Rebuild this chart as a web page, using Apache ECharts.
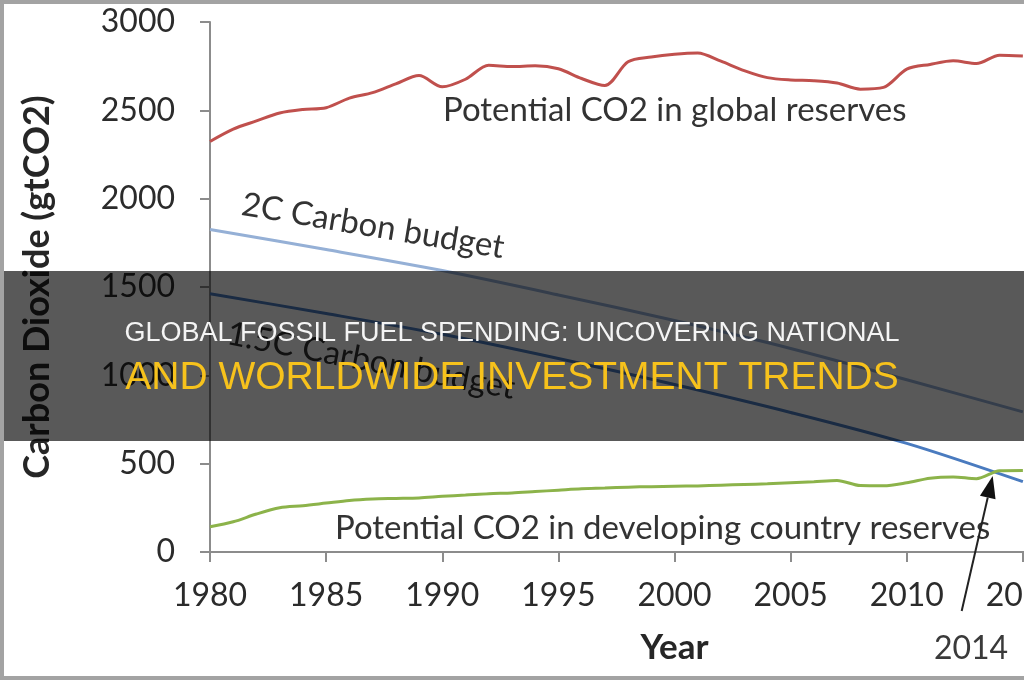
<!DOCTYPE html>
<html>
<head>
<meta charset="utf-8">
<script src="https://cdn.jsdelivr.net/npm/echarts@6/dist/echarts.min.js"></script>
<style>
    html, body { margin: 0; padding: 0; background: #fff; }
    #chart { width: 1024px; height: 680px; }
</style>
</head>
<body>
<div id="chart"></div>
<script>
// annual series, 1980 - 2015
var years = [1980, 1981, 1982, 1983, 1984, 1985, 1986, 1987, 1988, 1989,
    1990, 1991, 1992, 1993, 1994, 1995, 1996, 1997, 1998, 1999,
    2000, 2001, 2002, 2003, 2004, 2005, 2006, 2007, 2008, 2009,
    2010, 2011, 2012, 2013, 2014, 2015];
var globalReserves = [2324, 2394, 2440, 2485, 2505, 2515, 2569, 2600, 2650, 2697,
    2633, 2676, 2755, 2748, 2752, 2735, 2680, 2640, 2775, 2802,
    2818, 2825, 2778, 2725, 2685, 2672, 2668, 2655, 2620, 2630,
    2733, 2760, 2780, 2765, 2812, 2808];
var developingReserves = [143, 171, 215, 250, 262, 277, 292, 300, 303, 306,
    315, 322, 330, 334, 342, 350, 358, 362, 367, 370,
    372, 374, 378, 382, 386, 392, 398, 405, 376, 375,
    392, 418, 425, 415, 460, 462];

// carbon budgets, read every 5 years
var budgetYears = [1980, 1985, 1990, 1995, 2000, 2005, 2010, 2015];
var budget2C = [1825, 1712, 1593, 1455, 1310, 1152, 975, 793];
var budget15C = [1462, 1350, 1232, 1095, 948, 790, 615, 398];

var yTicks = [0, 3000, 500];
var xTicks = [1980, 2020, 5];

var chart = echarts.init(document.getElementById('chart'));
var labelFont = 'Lato, "Open Sans", sans-serif';
var axisGray = '#8c8c8c';

function pairs(xs, ys) {
    return xs.map(function (x, i) {
        return [x, ys[i]];
    });
}

function lineSeries(name, xs, ys, color) {
    return {
        name: name,
        type: 'line',
        data: pairs(xs, ys),
        smooth: 0.3,
        symbol: 'none',
        lineStyle: {color: color, width: 3},
        z: 3
    };
}

var option = {
    animation: false,
    backgroundColor: '#fff',
    // the plot runs on past the right edge, as in the cropped original
    grid: {left: 210, top: 22, width: 929, height: 530, outerBoundsMode: 'none', containLabel: false},
    xAxis: {
        type: 'value',
        min: xTicks[0],
        max: xTicks[1],
        interval: xTicks[2],
        name: 'Year',
        nameLocation: 'middle',
        nameGap: 78,
        nameTextStyle: {fontFamily: labelFont, fontWeight: 'bold', fontSize: 35, color: '#262626'},
        axisLine: {lineStyle: {color: axisGray, width: 2}},
        axisTick: {length: 10, lineStyle: {color: axisGray, width: 2}},
        axisLabel: {
            margin: 28, fontFamily: labelFont, fontSize: 32, color: '#2b2b2b',
            formatter: function (v) { return String(v); }
        },
        splitLine: {show: false}
    },
    yAxis: {
        type: 'value',
        min: yTicks[0],
        max: yTicks[1],
        interval: yTicks[2],
        name: 'Carbon Dioxide (gtCO2)',
        nameLocation: 'middle',
        nameGap: 155,
        nameTextStyle: {fontFamily: labelFont, fontWeight: 'bold', fontSize: 36, color: '#262626'},
        axisLine: {show: true, lineStyle: {color: axisGray, width: 2}},
        axisTick: {show: true, length: 10, lineStyle: {color: axisGray, width: 2}},
        axisLabel: {
            margin: 35, fontFamily: labelFont, fontSize: 32, color: '#2b2b2b',
            formatter: function (v) { return String(v); }
        },
        splitLine: {show: false}
    },
    series: [
        lineSeries('Potential CO2 in global reserves', years, globalReserves, '#c0504d'),
        lineSeries('2C Carbon budget', budgetYears, budget2C, '#95b0d6'),
        lineSeries('1.5C Carbon budget', budgetYears, budget15C, '#4a7bbf'),
        lineSeries('Potential CO2 in developing country reserves', years, developingReserves, '#8cb34a')
    ]
};

chart.setOption(option);

// annotations: arrow tip sits where developing reserves pass the 1.5C budget
var tip = chart.convertToPixel({gridIndex: 0}, [2013.7, 430]);
var tail = [tip[0] - 31, tip[1] + 135];
var dx = tip[0] - tail[0], dy = tip[1] - tail[1];
var len = Math.sqrt(dx * dx + dy * dy);
var ux = dx / len, uy = dy / len;
var headLen = 22, headHalf = 8;
var base = [tip[0] - ux * headLen, tip[1] - uy * headLen];

function seriesText(text, x, y, rot, align) {
    return {
        type: 'text', x: x, y: y, rotation: rot || 0, z: 5,
        style: {
            text: text, fill: '#333', font: '33px ' + labelFont,
            align: align || 'left', verticalAlign: 'middle'
        }
    };
}

chart.setOption({
    graphic: [
        seriesText('Potential CO2 in global reserves', 443, 110),
        seriesText('2C Carbon budget', 373, 226, -0.165, 'center'),
        seriesText('1.5C Carbon budget', 371, 361, -0.19, 'center'),
        seriesText('Potential CO2 in developing country reserves', 335, 528),
        {
            type: 'line', z: 6,
            shape: {x1: tail[0], y1: tail[1], x2: base[0], y2: base[1]},
            style: {stroke: '#222', lineWidth: 2}
        },
        {
            type: 'polygon', z: 6,
            shape: {points: [tip,
                [base[0] - uy * headHalf, base[1] + ux * headHalf],
                [base[0] + uy * headHalf, base[1] - ux * headHalf]]},
            style: {fill: '#111'}
        },
        {
            type: 'text', x: 971, y: 649, z: 6,
            style: {text: '2014', fill: '#3a3a3a', font: '32px ' + labelFont, align: 'center', verticalAlign: 'middle'}
        },
        // dark banner across the middle
        {
            type: 'rect', z: 100,
            shape: {x: 0, y: 271, width: 1024, height: 170},
            style: {fill: 'rgba(0,0,0,0.65)'}
        },
        {
            type: 'text', x: 512, y: 334, z: 101,
            style: {
                text: 'GLOBAL FOSSIL FUEL SPENDING: UNCOVERING NATIONAL', fill: '#f4f4f4',
                font: '27px "Liberation Sans", Arial, sans-serif', align: 'center', verticalAlign: 'middle'
            }
        },
        {
            type: 'text', x: 512, y: 378, z: 101,
            style: {
                text: 'AND WORLDWIDE INVESTMENT TRENDS', fill: '#f7c21c',
                font: '39px "Liberation Sans", Arial, sans-serif', align: 'center', verticalAlign: 'middle'
            }
        },
        // grey frame on top, left and bottom
        {type: 'rect', z: 110, shape: {x: 0, y: 0, width: 1024, height: 4}, style: {fill: '#a3a3a3'}},
        {type: 'rect', z: 110, shape: {x: 0, y: 0, width: 4, height: 680}, style: {fill: '#a3a3a3'}},
        {type: 'rect', z: 110, shape: {x: 0, y: 676, width: 1024, height: 4}, style: {fill: '#a3a3a3'}}
    ]
});
</script>
</body>
</html>
